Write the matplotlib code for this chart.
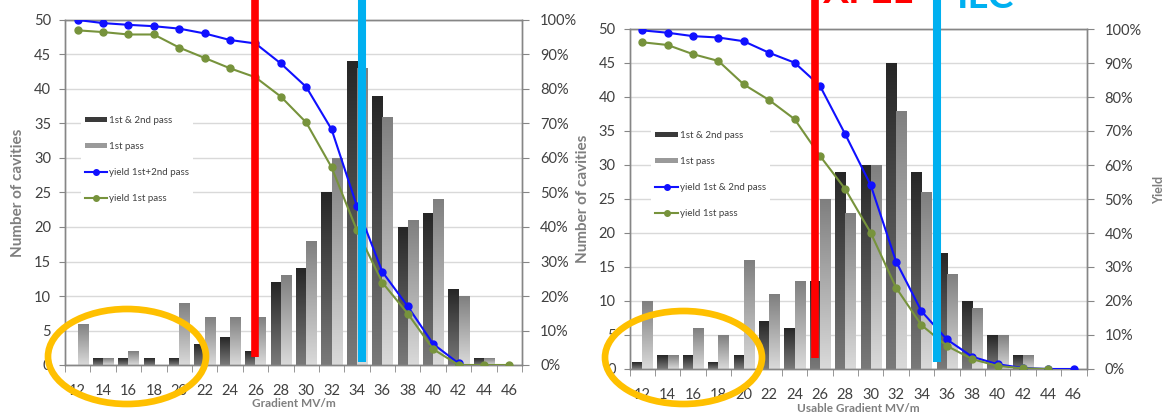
import numpy as np
import matplotlib.pyplot as plt
from matplotlib.patches import Ellipse, Patch
from matplotlib.lines import Line2D
from matplotlib.colors import LinearSegmentedColormap
from matplotlib.ticker import PercentFormatter

plt.rcParams['font.family'] = ['Lato', 'DejaVu Sans']

# gradient bins (MV/m)
gradient = [12, 14, 16, 18, 20, 22, 24, 26, 28, 30, 32, 34, 36, 38, 40, 42, 44, 46]

# left panel: counts and yields
left_both = [0, 1, 1, 1, 1, 3, 4, 2, 12, 14, 25, 44, 39, 20, 22, 11, 1, 0]
left_first = [6, 1, 2, 0, 9, 7, 7, 7, 13, 18, 30, 43, 36, 21, 24, 10, 1, 0]
left_yield_both = [100, 99.1, 98.6, 98.2, 97.5, 96.1, 94.2, 93.2, 87.4, 80.6,
                   68.3, 46, 27, 17, 6.1, 0.5, np.nan, np.nan]
left_yield_first = [97, 96.5, 95.8, 95.8, 92, 89, 86, 83.4, 77.8, 70.3,
                    57.3, 39, 23.9, 14.9, 4.6, 0, 0, 0]

# right panel: counts and yields
right_both = [1, 2, 2, 1, 2, 7, 6, 13, 29, 30, 45, 29, 17, 10, 5, 2, 0, 0]
right_first = [10, 2, 6, 5, 16, 11, 13, 25, 23, 30, 38, 26, 14, 9, 5, 2, 0, 0]
right_yield_both = [99.6, 98.9, 97.9, 97.5, 96.4, 93, 90.1, 83.3, 69, 54.1,
                    31.6, 17, 8.7, 3.6, 1.4, 0.3, 0, 0]
right_yield_first = [96.1, 95.3, 92.6, 90.6, 83.7, 79.1, 73.5, 62.7, 52.9, 40.1,
                     23.9, 12.9, 6.8, 2.9, 0.9, 0.2, 0, np.nan]

# XFEL / ILC marker gradients
left_xfel, left_ilc = 26.0, 34.4
right_xfel, right_ilc = 25.65, 35.2

W, H = 1173, 418
fig = plt.figure(figsize=(W / 100, H / 100), dpi=100)

GRID = '#d9d9d9'
SPINE = '#868686'
TXT = '#404040'
LBL = '#7f7f7f'
BLUE = '#1010ff'
GREEN = '#77933c'


def gradient_bars(ax, x, h, top, bottom):
    bars = ax.bar(x, h, width=0.8, color='none', edgecolor='none', zorder=2)
    cmap = LinearSegmentedColormap.from_list('g', [bottom, top])
    grad = np.linspace(0, 1, 256).reshape(-1, 1)
    for b in bars:
        x0, y0 = b.get_xy()
        w, hh = b.get_width(), b.get_height()
        if hh <= 0:
            continue
        im = ax.imshow(grad, extent=[x0, x0 + w, y0, y0 + hh], origin='lower',
                       aspect='auto', cmap=cmap, zorder=2)
        im.set_clip_path(b)


def panel(rect, both, first, y_both, y_first, xfel, ilc, xlabel, xlab_y, leg_labels,
          leg_anchor, line_top, xfel_bot, ilc_bot, ylab_x, yield_label):
    ax = fig.add_axes(rect)
    x = np.array(gradient)
    gradient_bars(ax, x - 0.4, both, '#262626', '#7a7a7a')
    gradient_bars(ax, x + 0.4, first, '#7f7f7f', '#dadada')
    ax.set_xlim(11, 47)
    ax.set_ylim(0, 50)
    ax.set_yticks(range(0, 51, 5))
    ax.yaxis.grid(True, color=GRID, lw=1)
    ax.set_axisbelow(True)
    ax.set_xticks(gradient)
    ax.set_xticks(np.arange(11, 48, 2), minor=True)
    ax.tick_params(axis='x', which='major', length=0, pad=14, labelsize=10.5, labelcolor=TXT)
    ax.tick_params(axis='x', which='minor', length=5, color=SPINE)
    ax.tick_params(axis='y', length=4, color=SPINE, labelsize=10.5, labelcolor=TXT, pad=6)
    ax.set_xlabel(xlabel, fontsize=8.5, color=LBL, fontweight='bold')
    ax.xaxis.set_label_coords(0.5, xlab_y)
    ax.set_ylabel('Number of cavities', fontsize=11, color=LBL, fontweight='bold')
    ax.yaxis.set_label_coords(ylab_x, 0.5)

    ax2 = ax.twinx()
    ax2.set_ylim(0, 100)
    ax2.set_yticks(range(0, 101, 10))
    ax2.yaxis.set_major_formatter(PercentFormatter(100, decimals=0))
    ax2.tick_params(axis='y', length=5, color=SPINE, labelsize=10.5, labelcolor=TXT, pad=8)
    ax2.plot(gradient, y_both, color=BLUE, lw=1.5, marker='o', ms=5, zorder=3)
    ax2.plot(gradient, y_first, color=GREEN, lw=1.5, marker='o', ms=5, zorder=4)
    ax2.plot([xfel, xfel], [xfel_bot, line_top], color='#ff0000', lw=5.5,
             solid_capstyle='butt', clip_on=False, zorder=10)
    ax2.plot([ilc, ilc], [ilc_bot, line_top], color='#00b0f0', lw=5.8,
             solid_capstyle='butt', clip_on=False, zorder=10)
    if yield_label:
        ax2.set_ylabel('Yield', fontsize=9, color=LBL, fontweight='bold')
        ax2.yaxis.set_label_coords(1.146, 0.526)

    for a in (ax, ax2):
        for s in a.spines.values():
            s.set_color(SPINE)
            s.set_linewidth(1)

    handles = [Patch(facecolor='#3a3a3a'), Patch(facecolor='#9a9a9a'),
               Line2D([], [], color=BLUE, lw=1.5, marker='o', ms=4),
               Line2D([], [], color=GREEN, lw=1.5, marker='o', ms=4)]
    leg = ax2.legend(handles, leg_labels, loc='upper left', bbox_to_anchor=leg_anchor,
                     borderaxespad=0, fontsize=7, frameon=True, fancybox=False,
                     edgecolor='none', facecolor='white', framealpha=1,
                     handlelength=2.3, handleheight=0.5, labelspacing=1.75,
                     handletextpad=0.2)
    leg.set_zorder(5)
    for t in leg.get_texts():
        t.set_color(TXT)
    return ax, ax2


panel([65 / W, 1 - 365 / H, 457 / W, 345 / H],
      left_both, left_first, left_yield_both, left_yield_first,
      left_xfel, left_ilc, 'Gradient MV/m', -0.097,
      ['1st & 2nd pass', '1st pass', 'yield 1st+2nd pass', 'yield 1st pass'],
      (0.035, 0.733), 106, 2.3, 0.9, -0.088, False)

panel([629.5 / W, 1 - 369 / H, 457 / W, 340 / H],
      right_both, right_first, right_yield_both, right_yield_first,
      right_xfel, right_ilc, 'Usable Gradient MV/m', -0.1,
      ['1st & 2nd pass', '1st pass', 'yield 1st & 2nd pass', 'yield 1st pass'],
      (0.048, 0.712), 109, 3.2, 2.0, -0.086, True)

# headline labels, cut off by the top edge
fig.text(823 / W, 1 - 3 / H, 'XFEL', color='#ff0000', fontsize=28,
         fontweight='bold', va='baseline', ha='left')
fig.text(957 / W, 1 - 8 / H, 'ILC', color='#00b0f0', fontsize=28,
         fontweight='bold', va='baseline', ha='left')

# orange highlight ellipses
for cx, cy, ew, eh in [(127, 356.5, 158, 95), (683.5, 357.5, 157, 93)]:
    fig.add_artist(Ellipse((cx / W, 1 - cy / H), ew / W, eh / H,
                           transform=fig.transFigure, fill=False,
                           edgecolor='#ffc000', lw=4.8, zorder=20))

plt.savefig('out.png', dpi=100)
